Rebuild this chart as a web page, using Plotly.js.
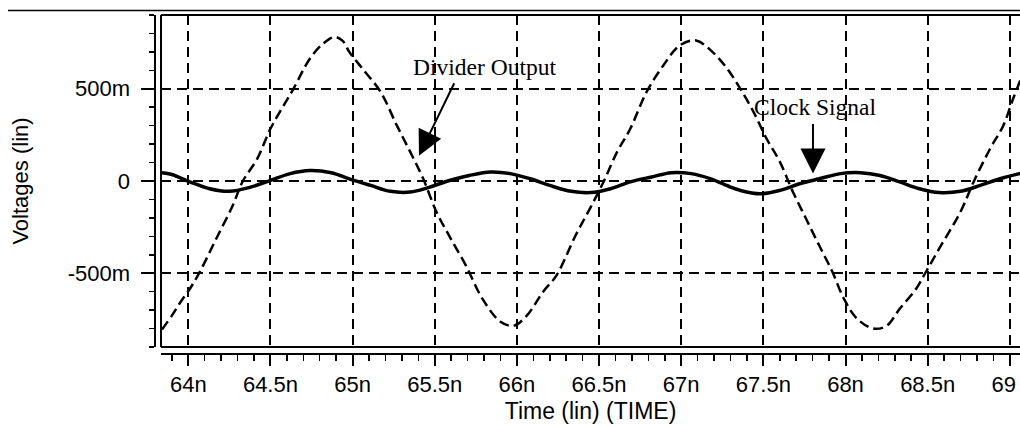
<!DOCTYPE html>
<html>
<head>
<meta charset="utf-8">
<script src="https://cdn.plot.ly/plotly-3.0.1.min.js"></script>
<style>
html,body{margin:0;padding:0;background:#fff;overflow:hidden}
#chart{width:1020px;height:427px}
</style>
</head>
<body>
<div id="chart"></div>
<script>
// ---- data (time in ns, voltage in mV) ----
const dividerTime = [63.84,63.90,63.95,64.01,64.07,64.17,64.27,64.33,64.42,64.50,64.58,64.64,64.74,64.82,64.89,64.94,64.98,65.06,65.17,65.27,65.35,65.43,65.51,65.59,65.69,65.79,65.90,65.98,66.06,66.16,66.24,66.36,66.45,66.53,66.61,66.69,66.79,66.89,66.99,67.09,67.19,67.28,67.36,67.44,67.52,67.60,67.68,67.76,67.84,67.92,67.99,68.07,68.17,68.25,68.33,68.43,68.49,68.57,68.70,68.78,68.88,68.96,69.02,69.07];
const dividerVolt = [-805,-730,-660,-584,-493,-313,-134,-4,121,283,409,500,663,744,781,760,700,609,484,300,159,12,-167,-300,-459,-638,-763,-785,-730,-600,-513,-290,-140,0,158,283,484,625,734,762,700,609,500,375,229,105,-59,-205,-350,-492,-638,-746,-800,-785,-693,-584,-492,-367,-167,-4,175,300,446,560];

const clockTime = [63.84,63.90,64.01,64.13,64.25,64.38,64.50,64.62,64.74,64.87,64.98,65.11,65.23,65.35,65.47,65.59,65.71,65.84,65.96,66.08,66.20,66.33,66.45,66.57,66.69,66.82,66.94,67.06,67.18,67.30,67.36,67.48,67.60,67.72,67.84,67.97,68.09,68.21,68.33,68.45,68.57,68.70,68.82,68.94,69.07];
const clockVolt = [45,35,-5,-42,-56,-33,3,40,57,45,12,-24,-56,-60,-33,3,30,49,40,12,-24,-56,-63,-42,-5,22,45,40,12,-33,-51,-69,-51,-15,12,40,45,30,-5,-42,-63,-56,-24,12,42];

const xTickVals = [64,64.5,65,65.5,66,66.5,67,67.5,68,68.5,69];
// last label carries trailing no-break spaces so it sits inside the window like the reference
const xTickText = ['64n','64.5n','65n','65.5n','66n','66.5n','67n','67.5n','68n','68.5n','69\u00a0\u00a0'];
const yTickVals = [-500,0,500];
const yTickText = ['-500m','0','500m'];

const seriesNames = ['Divider Output','Clock Signal'];

// ---- layout helpers (pixel -> paper) ----
const W = 1020, H = 427;
const px = v => v / W;
const py = v => 1 - v / H;

const sans = 'Liberation Sans, Arial, Helvetica, sans-serif';
const serif = 'Liberation Serif, Times New Roman, serif';

const traces = [
  {
    x: dividerTime, y: dividerVolt, name: seriesNames[0],
    type: 'scatter', mode: 'lines',
    line: {color: '#000', width: 2.5, dash: '10px,5px', shape: 'spline', smoothing: 1},
    hoverinfo: 'x+y'
  },
  {
    x: clockTime, y: clockVolt, name: seriesNames[1],
    type: 'scatter', mode: 'lines',
    line: {color: '#000', width: 3.5, shape: 'spline', smoothing: 1},
    hoverinfo: 'x+y'
  }
];

const layout = {
  width: W, height: H,
  margin: {l: 0, r: 0, t: 0, b: 0},
  paper_bgcolor: '#fff', plot_bgcolor: '#fff',
  showlegend: false,
  font: {family: sans, size: 22, color: '#000'},
  xaxis: {
    domain: [px(161), 1],
    range: [63.834, 69.062],
    anchor: 'free', position: py(354),
    tickmode: 'array', tickvals: xTickVals, ticktext: xTickText,
    ticks: 'outside', ticklen: 11, tickwidth: 2, tickcolor: '#000',
    ticklabeloverflow: 'allow',
    showline: true, linecolor: '#000', linewidth: 2,
    showgrid: true, gridcolor: '#000', gridwidth: 2, griddash: '10px,6px',
    zeroline: false,
    tickfont: {family: sans, size: 22, color: '#000'},
    minor: {tickmode: 'linear', tick0: 64, dtick: 0.1, ticks: 'outside', ticklen: 6, tickwidth: 1.5, tickcolor: '#000', showgrid: false},
    title: {text: 'Time (lin) (TIME)', font: {family: sans, size: 23, color: '#000'}, standoff: 5},
    automargin: false, fixedrange: true
  },
  yaxis: {
    domain: [py(347), py(15)],
    range: [-900, 900],
    anchor: 'free', position: px(154.5),
    tickmode: 'array', tickvals: yTickVals, ticktext: yTickText,
    ticks: 'outside', ticklen: 13, tickwidth: 2, tickcolor: '#000',
    ticklabelstandoff: 6, ticklabeloverflow: 'allow',
    showline: true, linecolor: '#000', linewidth: 2,
    showgrid: true, gridcolor: '#000', gridwidth: 2, griddash: '10px,6px',
    zeroline: false,
    tickfont: {family: sans, size: 22, color: '#000'},
    minor: {tickmode: 'linear', tick0: 0, dtick: 100, ticks: 'outside', ticklen: 5, tickwidth: 1.5, tickcolor: '#000', showgrid: false},
    title: {text: 'Voltages (lin)', font: {family: sans, size: 22, color: '#000'}, standoff: 32},
    automargin: false, fixedrange: true
  },
  shapes: [
    // page rule at top
    {type: 'line', xref: 'paper', yref: 'paper', x0: px(8), x1: 1, y0: py(10.5), y1: py(10.5), line: {color: '#000', width: 1.5}},
    // plot frame: top, left, bottom
    {type: 'line', xref: 'paper', yref: 'paper', x0: px(161), x1: 1, y0: py(15), y1: py(15), line: {color: '#000', width: 2}},
    {type: 'line', xref: 'paper', yref: 'paper', x0: px(161), x1: px(161), y0: py(15), y1: py(347), line: {color: '#000', width: 2}},
    {type: 'line', xref: 'paper', yref: 'paper', x0: px(161), x1: 1, y0: py(347), y1: py(347), line: {color: '#000', width: 2}}
  ],
  annotations: [
    {x: 65.80, y: 620, xref: 'x', yref: 'y', text: seriesNames[0], showarrow: false,
     xanchor: 'center', yanchor: 'middle', font: {family: serif, size: 23.5, color: '#000'}},
    {x: 65.404, y: 137, xref: 'x', yref: 'y', text: '', showarrow: true,
     ax: 36, ay: -74, arrowhead: 2, arrowsize: 2.5, arrowwidth: 2, arrowcolor: '#000'},
    {x: 67.82, y: 403, xref: 'x', yref: 'y', text: seriesNames[1], showarrow: false,
     xanchor: 'center', yanchor: 'middle', font: {family: serif, size: 23.5, color: '#000'}},
    {x: 67.802, y: 40, xref: 'x', yref: 'y', text: '', showarrow: true,
     ax: 0, ay: -51, arrowhead: 2, arrowsize: 2.5, arrowwidth: 2, arrowcolor: '#000'}
  ]
};

Plotly.newPlot('chart', traces, layout, {displayModeBar: false, staticPlot: true});
</script>
</body>
</html>
